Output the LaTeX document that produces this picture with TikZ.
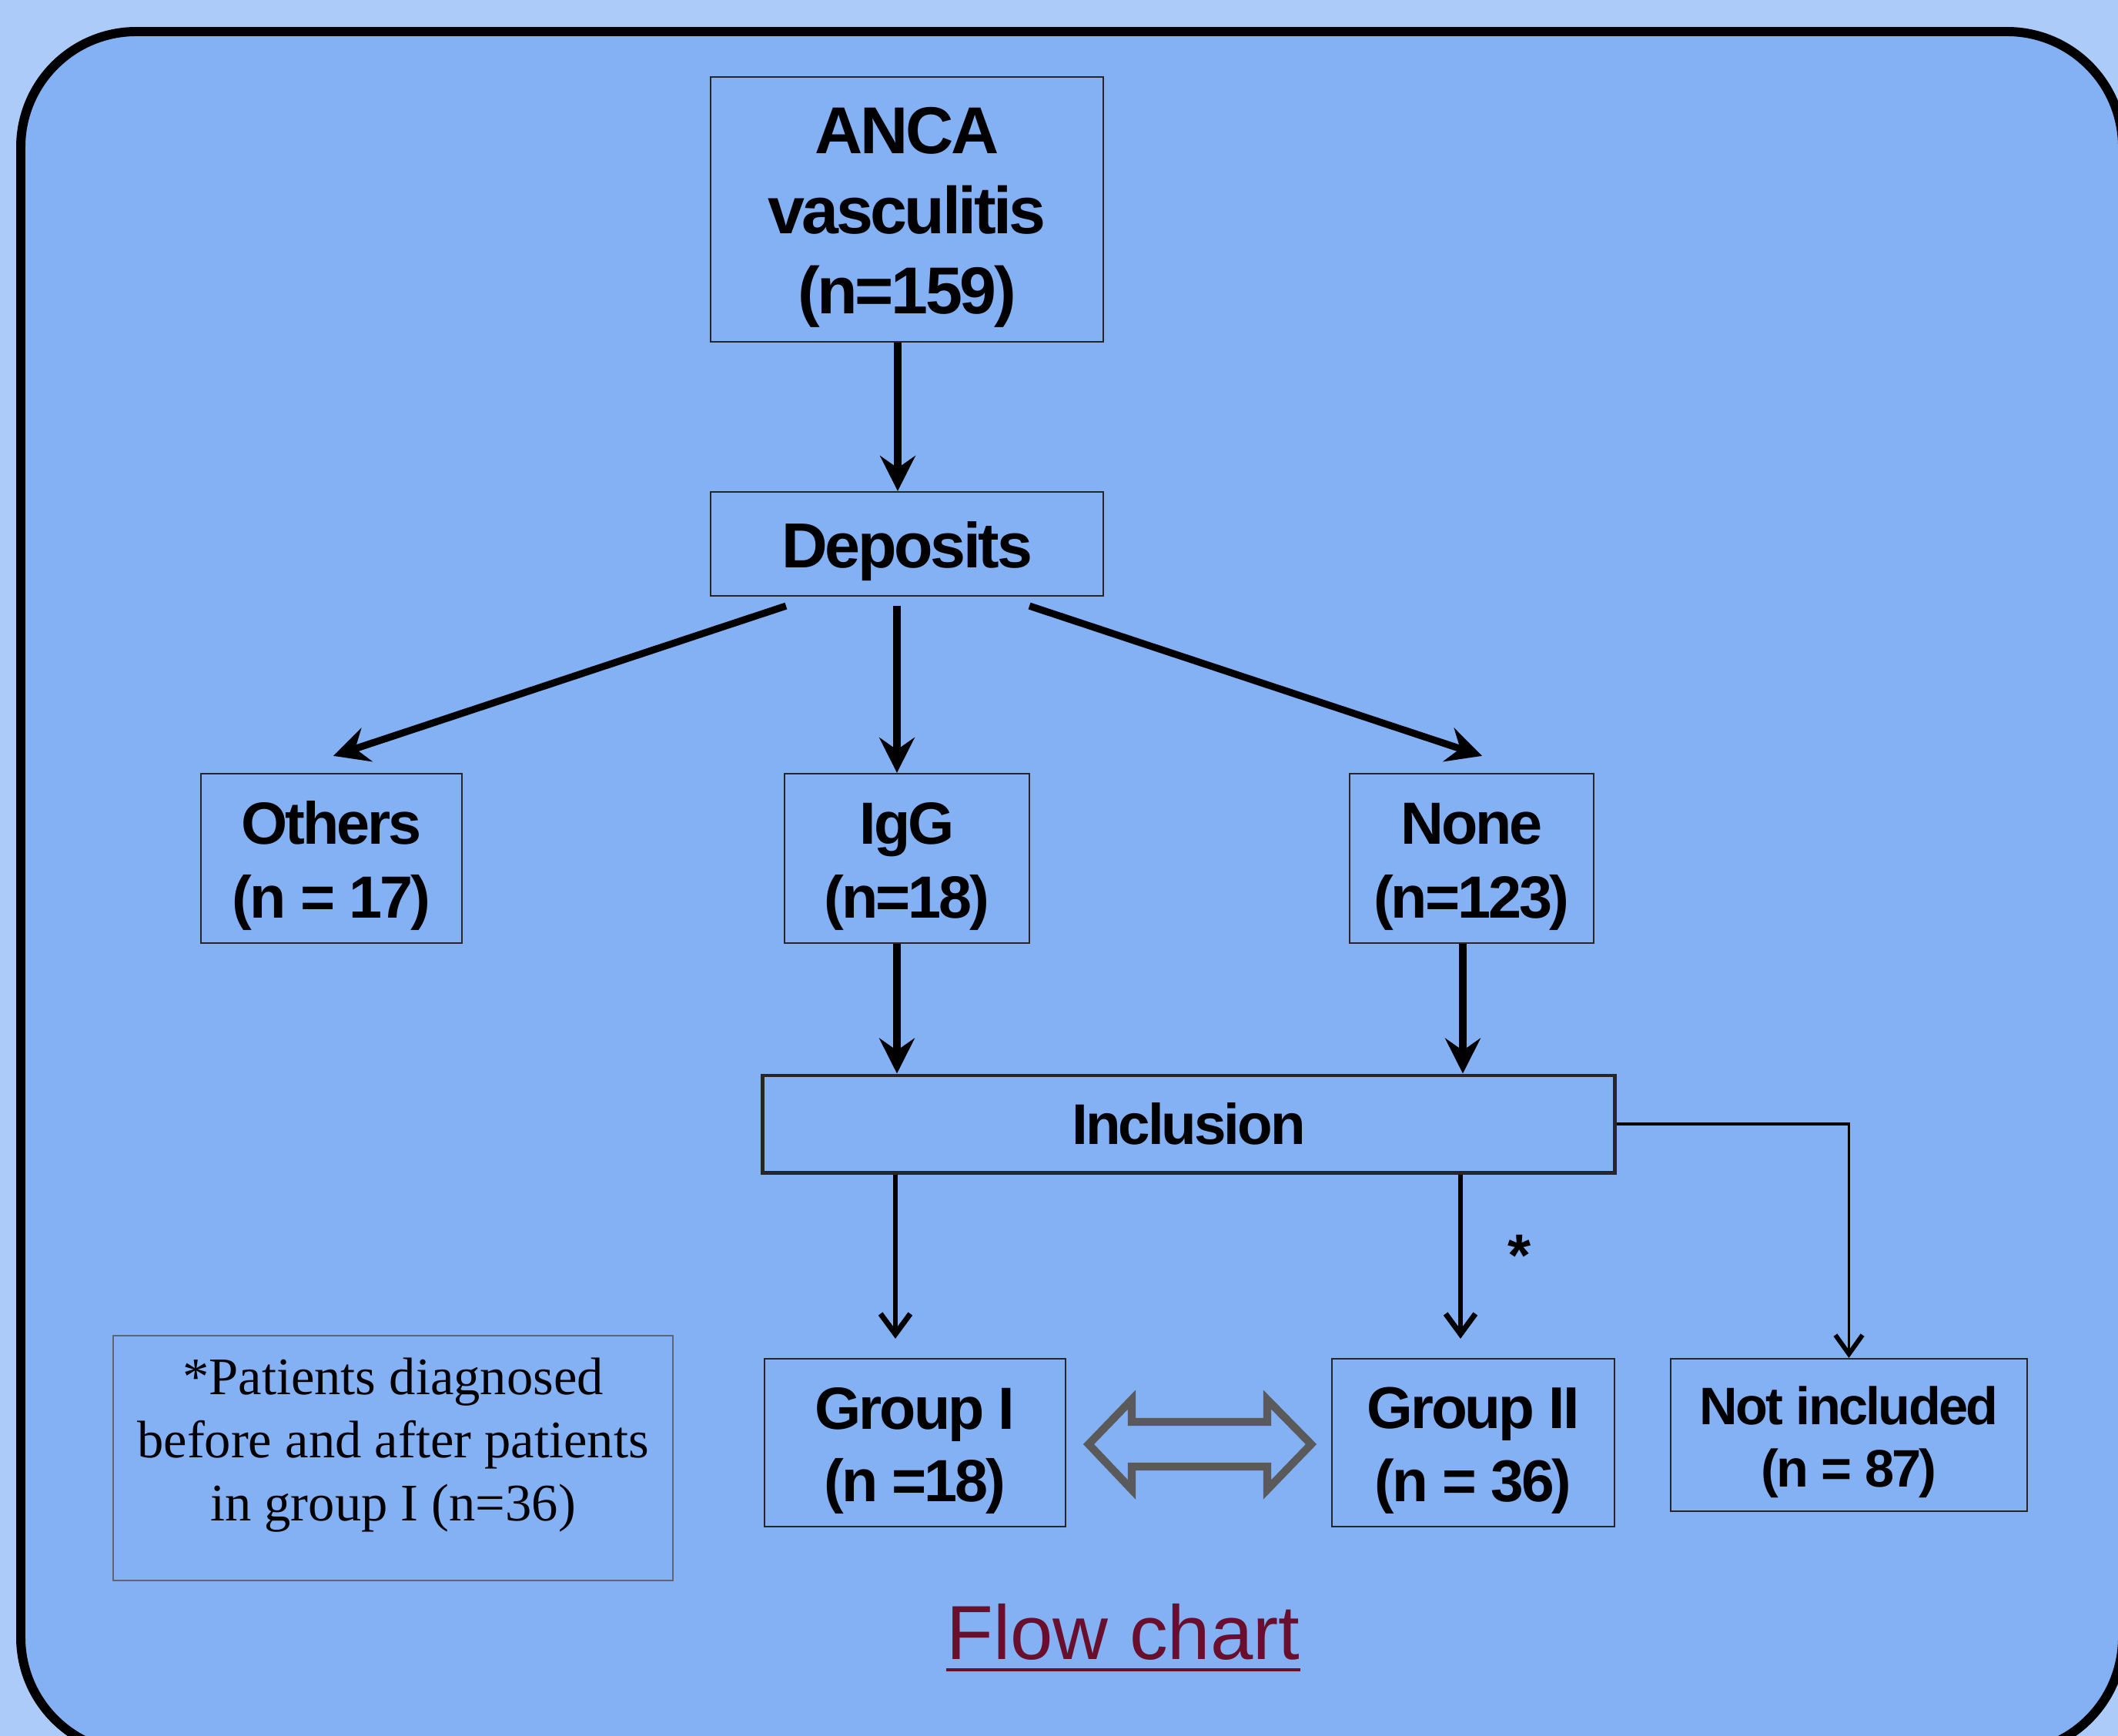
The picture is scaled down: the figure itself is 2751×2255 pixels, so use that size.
\documentclass[tikz,border=0pt]{standalone}
\usepackage{fontspec}
\setmainfont{Liberation Sans}
\newfontfamily\boxfont[LetterSpace=-4]{Liberation Sans}
\newfontfamily\serfont{Liberation Serif}
\usetikzlibrary{arrows.meta,calc}
\definecolor{outerbg}{RGB}{173,203,248}
\definecolor{innerbg}{RGB}{132,176,244}
\definecolor{maroon}{RGB}{105,15,45}
\definecolor{dgray}{RGB}{90,90,90}
\definecolor{lgray}{RGB}{100,100,110}
\newcommand{\dn}{\rule{0pt}{\dimexpr 0.75em+0.17cm\relax}}
\tikzset{
  bx/.style={draw=black!85, line width=0.6pt, inner sep=0pt, align=center, text=black},
  bigarrow/.style={line width=2.6pt, -{Stealth[length=13pt,width=13pt,inset=4.5pt]}},
  medarrow/.style={line width=1.8pt, -{Straight Barb[length=7.5pt,width=11pt,line width=2pt]}},
  thinarrow/.style={line width=1.1pt, -{Straight Barb[length=7pt,width=10pt,line width=1.7pt]}},
}
\begin{document}
\begin{tikzpicture}[x=0.01cm,y=-0.01cm]
\fill[outerbg] (0,0) rectangle (2751,2255);
\useasboundingbox (0,0) rectangle (2751,2255);
\clip (0,0) rectangle (2751,2255);
\draw[line width=3.4pt, fill=innerbg, rounded corners=1.5cm] (27,41) rectangle (2757,2277);

\node[bx, minimum width=5.10cm, minimum height=3.44cm, font=\boxfont\bfseries\fontsize{24.5}{29.6}\selectfont] (anca) at (1178,272) {\dn ANCA\\vasculitis\\(n=159)};
\node[bx, minimum width=5.10cm, minimum height=1.35cm, font=\boxfont\bfseries\fontsize{23.5}{28}\selectfont] (dep) at (1178,706.5) {\dn Deposits};
\node[bx, minimum width=3.39cm, minimum height=2.20cm, font=\boxfont\bfseries\fontsize{22}{27.3}\selectfont] (oth) at (430.5,1115) {\dn Others\\(n = 17)};
\node[bx, minimum width=3.18cm, minimum height=2.20cm, font=\boxfont\bfseries\fontsize{22}{27.3}\selectfont] (igg) at (1178,1115) {\dn IgG\\(n=18)};
\node[bx, minimum width=3.17cm, minimum height=2.20cm, font=\boxfont\bfseries\fontsize{22}{27.3}\selectfont] (none) at (1911.5,1115) {\dn None\\(n=123)};
\node[bx, line width=1.4pt, minimum width=11.06cm, minimum height=1.26cm, font=\boxfont\bfseries\fontsize{21.2}{25}\selectfont] (incl) at (1544,1460) {Inclusion};
\node[bx, minimum width=3.91cm, minimum height=2.18cm, font=\boxfont\bfseries\fontsize{22}{27}\selectfont] (g1) at (1188.5,1874) {\dn Group I\\(n =18)};
\node[bx, minimum width=3.67cm, minimum height=2.18cm, font=\boxfont\bfseries\fontsize{21.8}{27}\selectfont] (g2) at (1913.5,1874) {\dn Group II\\(n = 36)};
\node[bx, minimum width=4.63cm, minimum height=1.98cm, font=\boxfont\bfseries\fontsize{19.5}{23}\selectfont] (notinc) at (2401.5,1864) {\dn Not included\\(n = 87)};

\node[draw=lgray, line width=0.6pt, minimum width=7.27cm, minimum height=3.18cm, inner sep=0pt] (leg) at (510.5,1894) {};
\node[align=center, inner sep=0pt, font=\serfont\fontsize{19.5}{23.4}\selectfont] (legtxt) at ([yshift=0.17cm]leg.center) {*Patients diagnosed\\before and after patients\\in group I (n=36)};

\node[font=\boxfont\bfseries\fontsize{22}{26}\selectfont, inner sep=0pt] (star) at (1974,1631) {*};

% arrows
\draw[bigarrow] ([xshift=-0.12cm]anca.south) -- ([xshift=-0.12cm]dep.north);
\draw[bigarrow] ([xshift=-1.57cm,yshift=-0.12cm]dep.south) -- ([xshift=0.025cm,yshift=0.22cm]oth.north);
\draw[bigarrow] ([xshift=-0.13cm,yshift=-0.12cm]dep.south) -- ([xshift=-0.13cm]igg.north);
\draw[bigarrow] ([xshift=1.59cm,yshift=-0.12cm]dep.south) -- ([xshift=0.135cm,yshift=0.22cm]none.north);
\coordinate (p1) at ([xshift=-0.13cm]igg.south);
\coordinate (p2) at ([xshift=-0.115cm]none.south);
\draw[bigarrow] (p1) -- (p1 |- incl.north);
\draw[bigarrow] (p2) -- (p2 |- incl.north);
\coordinate (g1t) at ([xshift=-0.255cm,yshift=0.25cm]g1.north);
\coordinate (g2t) at ([xshift=-0.165cm,yshift=0.25cm]g2.north);
\draw[medarrow] (incl.south -| g1t) -- (g1t);
\draw[medarrow] (incl.south -| g2t) -- (g2t);
\draw[thinarrow] (incl.east) -| (notinc.north);

% double block arrow between groups
\draw[line width=2.9pt, draw=dgray] (1414,1876) -- (1470,1818) -- (1470,1847) -- (1646,1847) -- (1646,1818) -- (1703,1876) -- (1646,1935) -- (1646,1905) -- (1470,1905) -- (1470,1935) -- cycle;

% title
\node[font=\fontsize{28.3}{34}\selectfont, text=maroon, inner sep=0pt, anchor=base] (flow) at (1459,2155) {Flow chart};
\draw[maroon, line width=1.4pt] ([yshift=-0.14cm]flow.base west) -- ([yshift=-0.14cm]flow.base east);
\end{tikzpicture}
\end{document}
